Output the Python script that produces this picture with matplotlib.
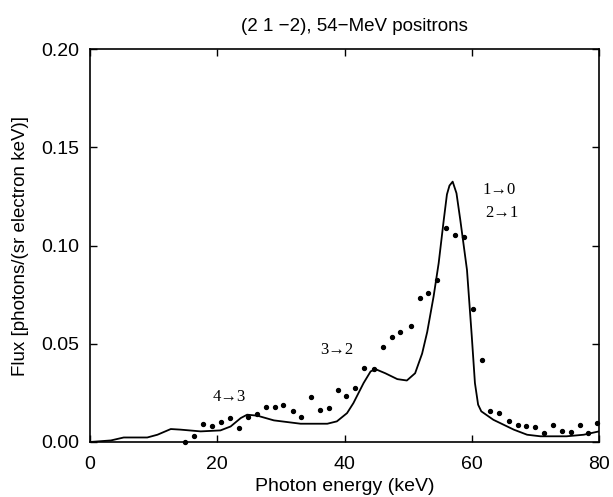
import matplotlib
matplotlib.use("Agg")
import matplotlib.pyplot as plt

# Measured data points (photon energy keV, flux)
meas_x = [14.9, 16.3, 17.75, 19.2, 20.6, 22.0, 23.4, 24.8, 26.2, 27.6, 29.0, 30.4,
          31.9, 33.2, 34.7, 36.1, 37.5, 38.9, 40.3, 41.7, 43.1, 44.6, 46.0, 47.4,
          48.8, 50.4, 51.8, 53.1, 54.5, 56.0, 57.4, 58.8, 60.2, 61.6, 62.9, 64.3,
          65.8, 67.2, 68.6, 70.0, 71.4, 72.8, 74.2, 75.6, 77.0, 78.3, 79.7]
meas_y = [0.0, 0.003, 0.0092, 0.008, 0.0104, 0.012, 0.0071, 0.0129, 0.0141, 0.018,
          0.0178, 0.019, 0.0158, 0.0127, 0.0229, 0.0161, 0.0173, 0.0265, 0.0236,
          0.0275, 0.0379, 0.0369, 0.0481, 0.0535, 0.0559, 0.0588, 0.0731, 0.0758,
          0.0822, 0.1091, 0.1054, 0.1043, 0.0675, 0.0415, 0.0156, 0.0146, 0.0105,
          0.0085, 0.008, 0.0076, 0.0046, 0.0087, 0.0054, 0.0053, 0.0087, 0.0046,
          0.0097]

# Calculated curve
calc_x = [0, 3.3, 5.3, 9.0, 10.6, 12.7, 14.2, 17.4, 20.5, 22.1, 23.7, 24.7, 26.3,
          28.9, 33.1, 37.3, 38.8, 40.4, 41.4, 43.0, 44.1, 44.85, 46.4, 48.3, 49.8,
          51.1, 52.2, 53.0, 54.0, 54.8, 55.6, 56.1, 56.5, 57.0, 57.6, 58.2, 59.25,
          60.0, 60.5, 61.0, 61.5, 63.4, 66.6, 68.7, 70.8, 74.9, 77.6, 80]
calc_y = [0, 0.0008, 0.0023, 0.0023, 0.0037, 0.0066, 0.0063, 0.0054, 0.0059,
          0.0079, 0.0122, 0.0139, 0.0134, 0.011, 0.0093, 0.0093, 0.0105, 0.0147,
          0.0198, 0.030, 0.0359, 0.0371, 0.035, 0.032, 0.0313, 0.035, 0.045, 0.056,
          0.074, 0.091, 0.113, 0.126, 0.1305, 0.1325, 0.1266, 0.113, 0.0876, 0.054,
          0.030, 0.019, 0.0156, 0.0113, 0.0063, 0.0037, 0.0029, 0.0029, 0.0037,
          0.0054]

labels = ["4\u21923", "3\u21922", "1\u21920", "2\u21921"]
label_x = [21.9, 38.8, 64.3, 64.8]
label_y = [0.0229, 0.0467, 0.128, 0.1167]

x_ticks = [0, 20, 40, 60, 80]
y_ticks = [0.00, 0.05, 0.10, 0.15, 0.20]

plt.rcParams['font.family'] = ['Liberation Sans', 'DejaVu Sans']

fig = plt.figure(figsize=(6.13, 4.97), dpi=100)
ax = fig.add_axes([90/613, 1-442/497, (599-90)/613, (442-49)/497])

ax.plot(calc_x, calc_y, color='black', lw=1.3, solid_joinstyle='round')
ax.scatter(meas_x, meas_y, s=8, color='black', zorder=3, clip_on=False)

for t, x, y in zip(labels, label_x, label_y):
    ax.text(x, y, t, ha='center', va='center', fontsize=12,
            family=['Liberation Serif', 'DejaVu Serif'])

ax.set_xlim(0, 80)
ax.set_ylim(0, 0.20)
ax.set_xticks(x_ticks)
ax.set_yticks(y_ticks)
ax.set_xticklabels([str(v) for v in x_ticks])
ax.set_yticklabels([f"{v:.2f}" for v in y_ticks])
ax.tick_params(direction='in', top=True, right=True, length=5, width=1,
               labelsize=14)
ax.tick_params(axis='x', pad=10)
ax.tick_params(axis='y', pad=7.5)
for s in ax.spines.values():
    s.set_linewidth(1.2)

ax.set_title("(2 1 \u22122), 54\u2212MeV positrons", fontsize=13.5, pad=13, x=0.52)
ax.set_xlabel("Photon energy (keV)", fontsize=14, labelpad=4)
ax.set_ylabel("Flux [photons/(sr electron keV)]", fontsize=13.5, labelpad=9)

fig.savefig("out.png", dpi=100)
